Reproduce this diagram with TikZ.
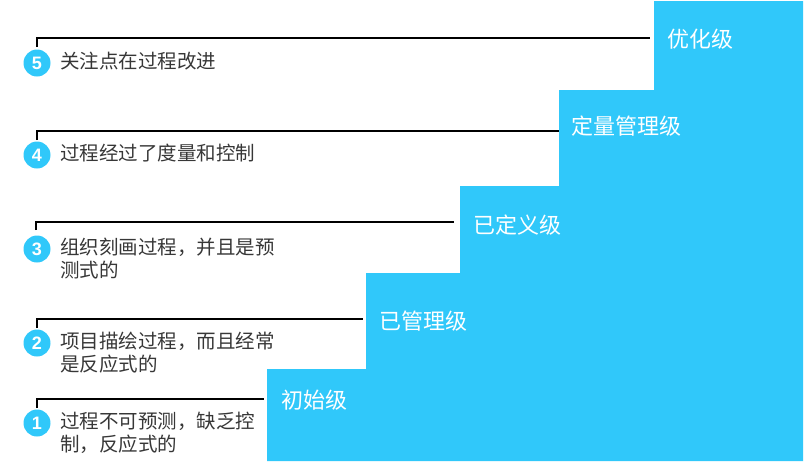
\documentclass[tikz,border=0pt]{standalone}
\usepackage{fontspec}
\newfontfamily\cjk{Noto Sans CJK SC}
\newfontfamily\numfont{Liberation Sans}
\usetikzlibrary{positioning}
\definecolor{stairblue}{RGB}{48,200,250}
\definecolor{notegray}{RGB}{55,55,55}
\tikzset{
  levellabel/.style={anchor=west, text=white, inner sep=0pt,
    font=\cjk\fontsize{22}{22}\selectfont},
  numdot/.style={circle, fill=stairblue, text=white, minimum size=27pt,
    inner sep=0pt, font=\numfont\bfseries\fontsize{18}{18}\selectfont},
  notetext/.style={anchor=north west, align=left, text=notegray, inner sep=0pt,
    font=\cjk\fontsize{19.5}{22.5}\selectfont},
  leader/.style={draw=black, line width=2pt}
}
\begin{document}
\begin{tikzpicture}[x=1pt,y=-1pt]
  \useasboundingbox (0,0) rectangle (809,461);
  % staircase
  \coordinate (s0) at (267,461);
  \coordinate (s1) at (267,369);
  \coordinate (s2) at (366,273);
  \coordinate (s3) at (460,186);
  \coordinate (s4) at (559,90);
  \coordinate (s5) at (654,1);
  \fill[stairblue] (s0) -- (s1) -- (s1 -| s2) -- (s2) -- (s2 -| s3) -- (s3)
    -- (s3 -| s4) -- (s4) -- (s4 -| s5) -- (s5) -- (803,1) -- (803,461) -- cycle;
  % level names
  \node[levellabel] (l1) at (281,400) {初始级};
  \node[levellabel] (l2) at (379,321) {已管理级};
  \node[levellabel] (l3) at (473,225) {已定义级};
  \node[levellabel] (l4) at (571,126) {定量管理级};
  \node[levellabel] (l5) at (667,39) {优化级};
  % leader lines
  \coordinate (a1) at (37,408);   \coordinate (e1) at (264,399);
  \coordinate (a2) at (37,328);   \coordinate (e2) at (363,319);
  \coordinate (a3) at (36,230);   \coordinate (e3) at (454,222);
  \coordinate (a4) at (37,140);   \coordinate (e4) at (559,131);
  \coordinate (a5) at (37,47);    \coordinate (e5) at (650,38);
  \draw[leader] (a1) |- (e1);
  \draw[leader] (a2) |- (e2);
  \draw[leader] (a3) |- (e3);
  \draw[leader] (a4) |- (e4);
  \draw[leader,line width=2.8pt] (a5) |- (e5);
  % numbered dots
  \node[numdot] (n1) at (37,423) {1};
  \node[numdot] (n2) at (37,343) {2};
  \node[numdot] (n3) at (37,249) {3};
  \node[numdot] (n4) at (37,155) {4};
  \node[numdot] (n5) at (37,63) {5};
  % notes
  \node[notetext] (t1) at (60,412) {过程不可预测，缺乏控\\制，反应式的};
  \node[notetext] (t2) at (60,332) {项目描绘过程，而且经常\\是反应式的};
  \node[notetext] (t3) at (60,238) {组织刻画过程，并且是预\\测式的};
  \node[notetext] (t4) at (60,144) {过程经过了度量和控制};
  \node[notetext] (t5) at (60,52) {关注点在过程改进};
\end{tikzpicture}
\end{document}
